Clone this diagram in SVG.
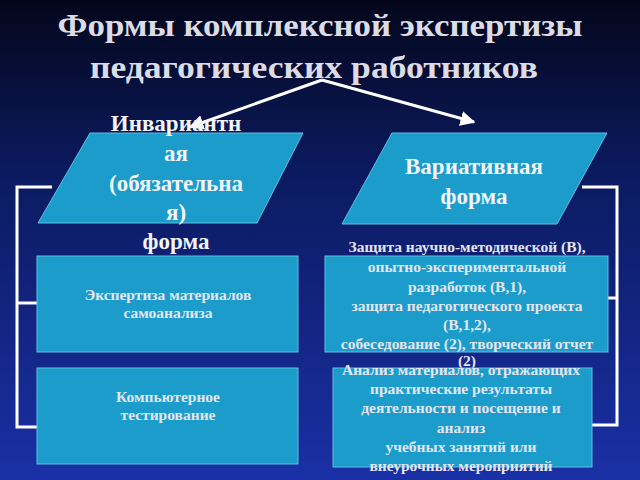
<svg xmlns="http://www.w3.org/2000/svg" width="640" height="480" viewBox="0 0 640 480">
<defs>
<linearGradient id="bg" x1="0" y1="0" x2="0" y2="1">
<stop offset="0" stop-color="#03061a"/>
<stop offset="0.35" stop-color="#0b1a5e"/>
<stop offset="1" stop-color="#1a30a6"/>
</linearGradient>
<marker id="ah" viewBox="0 0 10 10" refX="9" refY="5" markerWidth="5" markerHeight="5" orient="auto" markerUnits="strokeWidth">
<path d="M0,0 L10,5 L0,10 z" fill="#ffffff"/>
</marker>
<style>
.title{font-family:"Liberation Serif","DejaVu Serif",serif;font-weight:bold;font-size:31px;fill:#dcdce6;text-anchor:middle}
.big{font-family:"Liberation Serif","DejaVu Serif",serif;font-weight:bold;font-size:23px;fill:#f2f4f8;text-anchor:middle}
.small{font-family:"Liberation Serif","DejaVu Serif",serif;font-weight:bold;font-size:15.5px;fill:#e4e6ee;text-anchor:middle}
.shape{fill:#1b9ccb;stroke:#5cc0e4;stroke-width:1}
.conn{fill:none;stroke:#ffffff;stroke-width:3}
</style>
</defs>
<rect width="640" height="480" fill="url(#bg)"/>
<g id="title">
<text class="title" x="320" y="36" textLength="525" lengthAdjust="spacingAndGlyphs">Формы комплексной экспертизы</text>
<text class="title" x="314" y="78" textLength="448" lengthAdjust="spacingAndGlyphs">педагогических работников</text>
</g>
<g id="connectors">
<line class="conn" x1="322" y1="80" x2="190" y2="127" marker-end="url(#ah)"/>
<line class="conn" x1="322" y1="80" x2="474" y2="122" marker-end="url(#ah)"/>
<polyline class="conn" points="52,187 17,187 17,427 37,427"/>
<line class="conn" x1="17" y1="303" x2="37" y2="303"/>
<polyline class="conn" points="582,187 617,187 617,425 592,425"/>
<line class="conn" x1="608" y1="298" x2="617" y2="298"/>
</g>
<g id="node-invariant">
<polygon class="shape" points="90,133 303,133 257,223 38,223"/>
<text class="big" x="176" y="131">Инвариантн</text>
<text class="big" x="176" y="161">ая</text>
<text class="big" x="176" y="191">(обязательна</text>
<text class="big" x="176" y="220">я)</text>
<text class="big" x="176" y="249">форма</text>
</g>
<g id="node-variative">
<polygon class="shape" points="392,133 607,133 557,224 342,224"/>
<text class="big" x="474" y="174">Вариативная</text>
<text class="big" x="474" y="204">форма</text>
</g>
<g id="node-self">
<rect class="shape" x="37" y="256" width="261" height="96"/>
<text class="small" x="168" y="300">Экспертиза материалов</text>
<text class="small" x="168" y="318">самоанализа</text>
</g>
<g id="node-test">
<rect class="shape" x="37" y="368" width="261" height="96"/>
<text class="small" x="168" y="402">Компьютерное</text>
<text class="small" x="168" y="420">тестирование</text>
</g>
<g id="node-defense">
<rect class="shape" x="325" y="256" width="283" height="96"/>
<text class="small" x="467" y="252">Защита научно-методической (В),</text>
<text class="small" x="467" y="272">опытно-экспериментальной</text>
<text class="small" x="467" y="292">разработок (В,1),</text>
<text class="small" x="467" y="311">защита педагогического проекта</text>
<text class="small" x="467" y="330">(В,1,2),</text>
<text class="small" x="467" y="349">собеседование (2), творческий отчет</text>
<text class="small" x="467" y="366">(2)</text>
</g>
<g id="node-analysis">
<rect class="shape" x="333" y="368" width="259" height="99"/>
<text class="small" x="461" y="375">Анализ материалов, отражающих</text>
<text class="small" x="461" y="394">практические результаты</text>
<text class="small" x="461" y="413">деятельности и посещение  и</text>
<text class="small" x="461" y="433">анализ</text>
<text class="small" x="461" y="452">учебных занятий или</text>
<text class="small" x="461" y="471">внеурочных мероприятий</text>
</g>
</svg>
